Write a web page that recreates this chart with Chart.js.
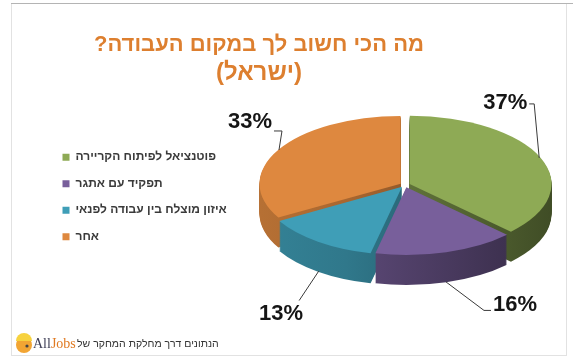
<!DOCTYPE html>
<html><head><meta charset="utf-8">
<script src="https://cdn.jsdelivr.net/npm/chart.js@4/dist/chart.umd.min.js"></script>
<style>html,body{margin:0;padding:0;background:#fff;}#wrap{position:relative;width:573px;height:358px;overflow:hidden}</style>
</head><body><div id="wrap"><canvas id="c" width="573" height="358" dir="rtl"></canvas></div>
<script>
// ---- data ----
const categories = ['פוטנציאל לפיתוח הקריירה', 'תפקיד עם אתגר', 'איזון מוצלח בין עבודה לפנאי', 'אחר'];
const shares = [37, 16, 13, 33];
const titleText = 'מה הכי חשוב לך במקום העבודה?';
const subtitleText = '(ישראל)';
const footerText = 'הנתונים דרך מחלקת המחקר של';

// ---- style / layout ----
const sliceColors = ['#8eaa55', '#785f9b', '#3f9eb7', '#de883f'];
const ORANGE = '#dd7f2f';
const TILT = 0.48, DEPTH = 30, PIE_CX = 405;
// leader-line / label placement relative to each slice's anchor point
const labelLayout = [
  {pts: [[-5, -54], [-10, -54]], text: [-12, -55], align: 'right'},
  {pts: [[38, 28.5], [45, 28.5]], text: [47, 23.5], align: 'left'},
  {pts: [[-19.6, 29.4]], text: [-37.6, 43], align: 'center'},
  {pts: [[3, -19], [-5, -19]], text: [-7, -28], align: 'right'}
];

function shade(hex, f) {
  const n = parseInt(hex.slice(1), 16);
  const r = (n >> 16) & 255, g = (n >> 8) & 255, b = n & 255;
  return 'rgb(' + Math.round(r * f) + ',' + Math.round(g * f) + ',' + Math.round(b * f) + ')';
}

const framePlugin = {
  id: 'frame',
  beforeDraw(chart) {
    const ctx = chart.ctx;
    ctx.save();
    ctx.lineWidth = 1;
    ctx.strokeStyle = '#e2e2e2';
    ctx.strokeRect(11.5, 3.5, 555, 352);
    ctx.strokeStyle = '#b4b4b4';
    ctx.beginPath(); ctx.moveTo(11, 3.5); ctx.lineTo(573, 3.5); ctx.stroke();
    ctx.restore();
    ctx.direction = 'rtl';
  },
  afterDraw(chart) {
    const ctx = chart.ctx;
    ctx.save();
    ctx.direction = 'rtl';
    ctx.textBaseline = 'middle';
    ctx.fillStyle = '#333';
    ctx.font = '10.5px "Liberation Sans", Arial, sans-serif';
    ctx.textAlign = 'left';
    ctx.fillText(footerText, 77, 344);
    ctx.direction = 'ltr';
    ctx.font = '14px "Liberation Serif", serif';
    ctx.fillStyle = '#404058';
    ctx.fillText('All', 33, 344);
    const w = ctx.measureText('All').width;
    ctx.fillStyle = '#e07a22';
    ctx.fillText('Jobs', 33 + w, 344);
    // small logo mark
    ctx.fillStyle = '#f2a533';
    ctx.beginPath(); ctx.arc(24, 345, 8, 0, Math.PI * 2); ctx.fill();
    ctx.fillStyle = '#f7d23e';
    ctx.beginPath(); ctx.arc(24, 341, 8, Math.PI, 0); ctx.fill();
    ctx.fillStyle = '#444';
    ctx.beginPath(); ctx.arc(27, 346, 1.6, 0, Math.PI * 2); ctx.fill();
    ctx.restore();
  }
};

const spacerPlugin = {
  id: 'spacer',
  beforeInit(chart) {
    const box = {
      position: 'left', weight: 0, fullSize: false, options: {},
      isHorizontal() { return false; },
      update(maxW, maxH) {
        const pad = chart.options.layout.padding;
        const lg = chart.legend;
        const right = chart.width - pad.right;
        this.width = Math.max(0, 2 * PIE_CX - right - pad.left - (lg ? lg.width : 0));
        this.height = maxH;
      },
      draw() {}
    };
    Chart.layouts.addBox(chart, box);
  }
};

const pie3d = {
  id: 'pie3d',
  beforeDatasetsDraw(chart) {
    const arcs = chart.getDatasetMeta(0).data;
    if (!arcs.length) return;
    const ctx = chart.ctx;
    const cx = arcs[0].x, cy = arcs[0].y, R = arcs[0].outerRadius;
    const sides = arcs.map((a, i) => {
      const g = ctx.createLinearGradient(cx - R, 0, cx + R, 0);
      const c = sliceColors[i];
      g.addColorStop(0, shade(c, 0.82));
      g.addColorStop(0.3, shade(c, 0.76));
      g.addColorStop(1, shade(c, 0.45));
      return g;
    });
    for (let d = DEPTH; d >= 1; d--) {
      ctx.save();
      ctx.translate(cx, cy + d); ctx.scale(1, TILT); ctx.translate(-cx, -cy);
      arcs.forEach((a, i) => {
        const o = a.options;
        a.options = Object.assign({}, o, {backgroundColor: sides[i], borderWidth: 0});
        a.draw(ctx);
        a.options = o;
      });
      ctx.restore();
    }
    ctx.save();
    ctx.translate(cx, cy); ctx.scale(1, TILT); ctx.translate(-cx, -cy);
    chart.$pieSaved = true;
  },
  afterDatasetsDraw(chart) {
    const ctx = chart.ctx;
    if (chart.$pieSaved) { ctx.restore(); chart.$pieSaved = false; }
    const arcs = chart.getDatasetMeta(0).data;
    if (!arcs.length) return;
    const cy = arcs[0].y;
    ctx.save();
    ctx.direction = 'ltr';
    ctx.strokeStyle = '#3a3a3a';
    ctx.lineWidth = 1;
    ctx.fillStyle = '#151515';
    ctx.font = 'bold 22px "Liberation Sans", Arial, sans-serif';
    ctx.textBaseline = 'middle';
    arcs.forEach((a, i) => {
      const mid = (a.startAngle + a.endAngle) / 2;
      const r = a.outerRadius + (a.options.offset || 0) / 4;
      const ax = a.x + Math.cos(mid) * r;
      let ay = cy + TILT * Math.sin(mid) * r;
      if (Math.sin(mid) > 0) ay += DEPTH;
      const L = labelLayout[i];
      ctx.beginPath();
      ctx.moveTo(ax, ay);
      L.pts.forEach(p => ctx.lineTo(ax + p[0], ay + p[1]));
      ctx.stroke();
      ctx.textAlign = L.align;
      ctx.fillText(shares[i] + '%', ax + L.text[0], ay + L.text[1]);
    });
    ctx.restore();
  }
};

const FONT = 'Liberation Sans';
new Chart(document.getElementById('c'), {
  type: 'pie',
  data: {
    labels: categories,
    datasets: [{
      data: shares,
      backgroundColor: sliceColors,
      borderWidth: 0,
      offset: 20,
      hoverOffset: 0,
      radius: 140.5,
      clip: false
    }]
  },
  options: {
    responsive: false,
    animation: false,
    events: [],
    layout: {padding: {left: 48, right: 103, top: 0, bottom: 76.4}},
    plugins: {
      title: {display: true, text: titleText, color: ORANGE,
        font: {family: FONT, size: 22, weight: 'bold'}, padding: {top: 32, bottom: 0}},
      subtitle: {display: true, text: subtitleText, color: ORANGE,
        font: {family: FONT, size: 24, weight: 'bold'}, padding: {top: 1, bottom: 0}},
      legend: {
        position: 'left', fullSize: false, align: 'center', maxWidth: 320,
        title: {display: true, text: '', font: {size: 10}, padding: {top: 12, bottom: 0}},
        labels: {boxWidth: 7, boxHeight: 7, padding: 14.5, color: '#3a3a3a',
          font: {family: FONT, size: 12, weight: 'bold'}}
      },
      tooltip: {enabled: false}
    }
  },
  plugins: [framePlugin, spacerPlugin, pie3d]
});
</script>
</body></html>
